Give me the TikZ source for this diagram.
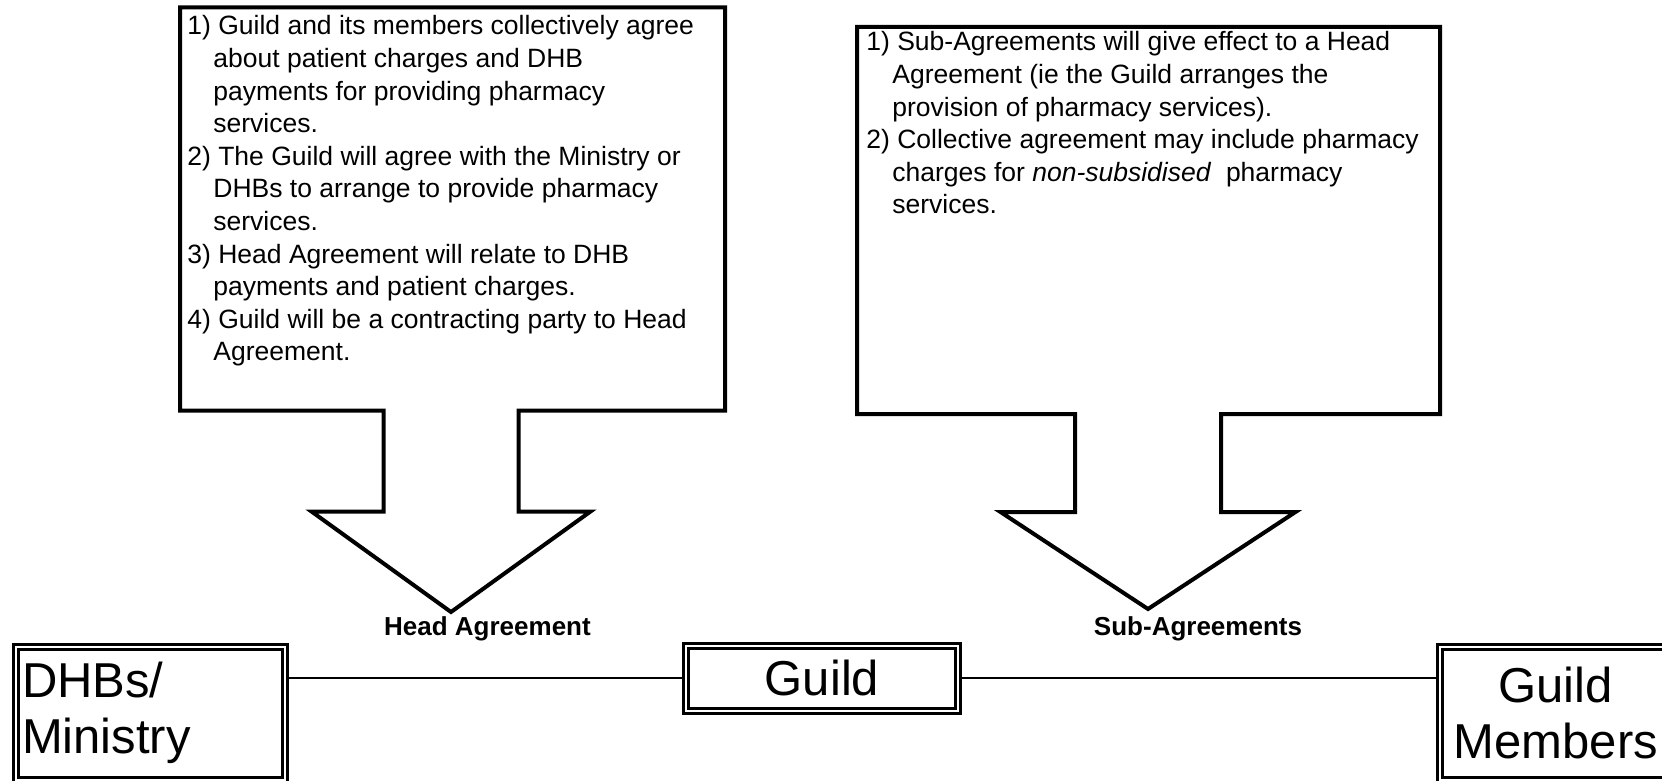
\documentclass[tikz,border=0pt]{standalone}
\usepackage{fontspec}
\setmainfont{Liberation Sans}
\newcommand{\hang}{\hspace*{13pt}}
\newcommand{\DownCallout}[9]%
% left, top, right, bottom, tip x, stem half width, head half width, head y, tip y
{   \draw[callout] (#1,#2) -- (#3,#2) -- (#3,#4) -- ({#5+#6},#4) -- ({#5+#6},#8)
        -- ({#5+#7},#8) -- (#5,#9) -- ({#5-#7},#8) -- ({#5-#6},#8)
        -- ({#5-#6},#4) -- (#1,#4) -- cycle;
}

\begin{document}
\begin{tikzpicture}
[   x=0.5pt, y=-0.5pt,
    party/.style={draw, line width=1.5pt, double, double distance=1pt,
        inner xsep=3pt, inner ysep=0pt, font=\fontsize{24.5pt}{28pt}\selectfont},
    callout/.style={draw, line width=2pt, fill=white},
    blurb/.style={anchor=base west, inner sep=0pt, font=\fontsize{13.25pt}{16.3pt}\selectfont},
    tag/.style={anchor=base, inner sep=0pt, font=\bfseries\fontsize{13pt}{15pt}\selectfont},
    link/.style={draw, line width=1.35pt}
]
    \useasboundingbox (0,0) rectangle (1662,781);
    \clip (0,0) rectangle (1662,781);

    % the two arrow boxes
    \DownCallout{180}{7.5}{725}{410.5}{451}{67.5}{139.5}{511.5}{612}
    \DownCallout{857}{27}{1440}{414}{1148}{73}{147.5}{512}{609}

    \node[blurb] (headtext) at (187,35)
    {\begin{tabular}[t]{@{}l@{}}
        1) Guild and its members collectively agree\\
        \hang about patient charges and DHB\\
        \hang payments for providing pharmacy\\
        \hang services.\\
        2) The Guild will agree with the Ministry or\\
        \hang DHBs to arrange to provide pharmacy\\
        \hang services.\\
        3) Head Agreement will relate to DHB\\
        \hang payments and patient charges.\\
        4) Guild will be a contracting party to Head\\
        \hang Agreement.
    \end{tabular}};
    \node[blurb] (subtext) at (866,51)
    {\begin{tabular}[t]{@{}l@{}}
        1) Sub-Agreements will give effect to a Head\\
        \hang Agreement (ie the Guild arranges the\\
        \hang provision of pharmacy services).\\
        2) Collective agreement may include pharmacy\\
        \hang charges for \textit{non-subsidised}\ \ pharmacy\\
        \hang services.
    \end{tabular}};

    \node[tag] (headlbl) at (487.5,635) {Head Agreement};
    \node[tag] (sublbl) at (1198,635) {Sub-Agreements};

    % parties along the bottom
    \node[party, minimum width=134.25pt, minimum height=66.5pt, text width=128.25pt,
        align=left] (dhb) at (150.25,713) {DHBs/\\Ministry};
    \node[party, minimum width=136pt, minimum height=32.5pt] (guild) at (822,678) {Guild};
    \node[party, minimum width=116.25pt, minimum height=66.5pt, text width=110.25pt,
        align=center] (members) at (1555.75,713) {Guild\\Members};

    \draw[link] (guild.west) -- (guild.west -| dhb.east);
    \draw[link] (guild.east) -- (guild.east -| members.west);
\end{tikzpicture}
\end{document}
